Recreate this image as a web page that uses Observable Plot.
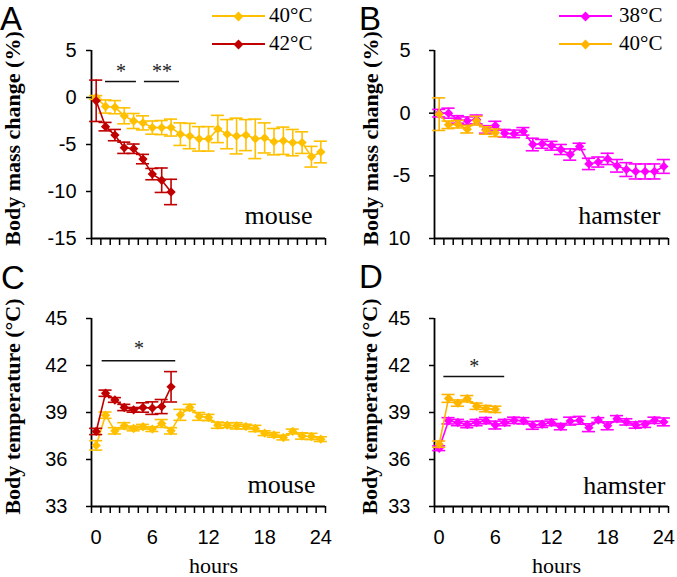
<!DOCTYPE html>
<html><head><meta charset="utf-8">
<script src="https://cdn.jsdelivr.net/npm/d3@7"></script>
<script src="https://cdn.jsdelivr.net/npm/@observablehq/plot@0.6"></script>
<style>
body{margin:0;background:#fff;}
#chart{position:relative;width:677px;height:577px;background:#fff;overflow:hidden;}
#chart svg{position:absolute;overflow:visible;}
.letter{position:absolute;font-family:'Liberation Sans',Arial,sans-serif;font-size:33px;line-height:1;color:#000;}
.legtext{position:absolute;font-family:'Liberation Serif','Times New Roman',serif;font-size:21px;line-height:1;color:#000;white-space:nowrap;}
.legline{position:absolute;height:2px;}
.legdia{position:absolute;width:7px;height:7px;transform:rotate(45deg);}
</style></head><body><div id="chart"></div>
<script>
// ---------- data ----------
const hours = [0,1,2,3,4,5,6,7,8,9,10,11,12,13,14,15,16,17,18,19,20,21,22,23,24];
const hourTickLabels = [0, 6, 12, 18, 24];
const hourTickMarks = [-0.5,0.5,1.5,2.5,3.5,4.5,5.5,6.5,7.5,8.5,9.5,10.5,11.5,12.5,13.5,14.5,15.5,16.5,17.5,18.5,19.5,20.5,21.5,22.5,23.5,24.5];

const massTicksA = [-15, -10, -5, 0, 5];
const massLabelsA = ["-15", "-10", "-5", "0", "5"];
const massTicksB = [-10, -5, 0, 5];
const massLabelsB = ["10", "-5", "0", "5"];
const tempTicks = [33, 36, 39, 42, 45];
const tempLabels = ["33", "36", "39", "42", "45"];

// Panel A: mouse body mass change (%)
const mouseMass40 = [0.0,-0.96,-1.03,-1.95,-2.5,-2.7,-3.2,-3.2,-3.2,-3.9,-4.1,-4.4,-4.4,-3.35,-3.9,-4.1,-4.0,-4.4,-4.3,-4.7,-4.6,-4.8,-4.8,-6.3,-5.8];
const mouseMass40Err = [0.2,0.7,0.7,0.85,0.8,0.75,0.7,0.75,0.9,1.2,1.35,1.3,1.3,1.45,1.55,1.9,1.65,2.1,1.6,1.4,1.45,1.4,1.15,1.1,1.15];
const mouseMass42 = [-0.35,-3.1,-4.0,-5.35,-5.45,-6.55,-8.15,-8.8,-10.05];
const mouseMass42Err = [2.2,0.45,0.6,0.6,0.5,0.5,0.6,1.3,1.35];

// Panel B: hamster body mass change (%)
const hamsterMass38 = [0.0,0.0,-0.5,-0.6,-0.5,-1.3,-1.0,-1.6,-1.65,-1.45,-2.5,-2.45,-2.6,-2.9,-3.3,-2.65,-4.05,-3.9,-3.65,-4.2,-4.5,-4.65,-4.65,-4.65,-4.25];
const hamsterMass38Err = [0.3,0.4,0.3,0.3,0.35,0.3,0.35,0.3,0.3,0.3,0.5,0.35,0.35,0.4,0.45,0.25,0.45,0.4,0.45,0.5,0.55,0.6,0.6,0.6,0.55];
const hamsterMass40 = [-0.08,-0.93,-0.88,-1.28,-0.6,-1.38,-1.57];
const hamsterMass40Err = [1.3,0.3,0.3,0.3,0.35,0.3,0.3];

// Panel C: mouse body temperature (°C)
const mouseTemp40 = [36.9,38.83,37.83,38.15,37.98,38.09,37.94,38.3,37.83,38.85,39.32,38.75,38.68,38.19,38.19,38.15,38.1,37.98,37.68,37.57,37.4,37.79,37.5,37.47,37.3];
const mouseTemp40Err = [0.3,0.2,0.2,0.2,0.15,0.15,0.15,0.25,0.2,0.35,0.2,0.25,0.2,0.2,0.15,0.2,0.15,0.2,0.15,0.15,0.15,0.15,0.2,0.2,0.15];
const mouseTemp42 = [37.79,40.23,39.8,39.32,39.17,39.32,39.28,39.38,40.64];
const mouseTemp42Err = [0.2,0.2,0.15,0.2,0.15,0.3,0.4,0.45,0.97];

// Panel D: hamster body temperature (°C)
const hamsterTemp38 = [36.72,38.47,38.36,38.23,38.36,38.48,38.2,38.36,38.5,38.47,38.18,38.25,38.36,38.1,38.45,38.5,38.03,38.52,38.15,38.6,38.4,38.2,38.25,38.5,38.4];
const hamsterTemp38Err = [0.15,0.2,0.2,0.2,0.2,0.2,0.25,0.2,0.2,0.2,0.25,0.2,0.2,0.2,0.25,0.25,0.25,0.15,0.25,0.2,0.2,0.2,0.2,0.2,0.25];
const hamsterTemp40 = [36.98,39.9,39.6,39.88,39.4,39.25,39.2];
const hamsterTemp40Err = [0.2,0.25,0.2,0.2,0.2,0.2,0.2];

// significance bars
const sigA = [{x1: 1.0, x2: 4.3, y: 1.7, label: "*"}, {x1: 5.15, x2: 8.9, y: 1.7, label: "**"}];
const sigC = [{x1: 0.64, x2: 8.5, y: 42.3, label: "*"}];
const sigD = [{x1: 0.5, x2: 7.0, y: 41.3, label: "*"}];

const GOLD = "#FFC000", RED = "#C00000", MAGENTA = "#FF00FF", GOLD2 = "#FFB400";
const SERIF = "'Liberation Serif','Times New Roman',serif";
const SANS = "'Liberation Sans',Arial,sans-serif";

// ---------- helpers ----------
function series(ys, es) { return ys.map((y, i) => ({h: hours[i], y, e: es[i]})); }

function seriesMarks(data, color) {
  const sw = 1.6;
  return [
    Plot.line(data, {x: "h", y: "y", stroke: color, strokeWidth: sw}),
    Plot.ruleX(data, {x: "h", y1: d => d.y - d.e, y2: d => d.y + d.e, stroke: color, strokeWidth: sw}),
    Plot.ruleY(data, {y: d => d.y + d.e, x1: d => d.h - 0.7, x2: d => d.h + 0.7, stroke: color, strokeWidth: sw}),
    Plot.ruleY(data, {y: d => d.y - d.e, x1: d => d.h - 0.7, x2: d => d.h + 0.7, stroke: color, strokeWidth: sw}),
    Plot.dot(data, {x: "h", y: "y", symbol: "diamond2", r: 4.2, fill: color, stroke: "none"})
  ];
}

function sigMarks(sig, starDy) {
  return [
    Plot.ruleY(sig, {y: "y", x1: "x1", x2: "x2", stroke: "#111", strokeWidth: 1.5}),
    Plot.text(sig, {x: d => (d.x1 + d.x2) / 2, y: "y", text: "label", dy: starDy, fontFamily: SERIF, fontSize: 20, fill: "#222"})
  ];
}

const chart = document.getElementById("chart");

function panel(o) {
  const svg = Plot.plot({
    width: o.width, height: o.height,
    marginLeft: o.ml, marginRight: o.mr, marginTop: o.mt, marginBottom: o.mb,
    x: {domain: [-0.5, 24.5]},
    y: {domain: o.yDomain},
    style: {fontFamily: SANS, fontSize: "20px", background: "transparent", color: "#000", overflow: "visible"},
    marks: [
      Plot.axisY({ticks: o.yTicks, tickSize: 5, tickPadding: o.tickPad, tickFormat: d => o.yLabels[o.yTicks.indexOf(d)], label: null, strokeWidth: 1.5, fontSize: 20}),
      Plot.axisX({ticks: hourTickMarks, tickSize: 7, tickFormat: () => "", label: null, strokeWidth: 1.5}),
      o.bottom ? Plot.axisX({ticks: hourTickLabels, tickSize: 0, tickPadding: 23, label: null, fontSize: 20}) : null,
      Plot.ruleX([-0.5], {stroke: "#000", strokeWidth: 1.8}),
      Plot.ruleY([o.yDomain[0]], {stroke: "#000", strokeWidth: 1.8}),
      ...sigMarks(o.sig || [], o.starDy || -10),
      ...o.series.flatMap(s => seriesMarks(s.data, s.color)),
      Plot.text([o.animal], {frameAnchor: "bottom-right", textAnchor: "end", lineAnchor: "bottom", dx: o.animalDx, dy: o.animalDy, fontFamily: SERIF, fontSize: 26}),
      Plot.text([o.yTitle], {frameAnchor: "left", textAnchor: "middle", lineAnchor: "middle", rotate: -90, dx: o.titleDx, dy: -6, fontFamily: SERIF, fontWeight: "bold", fontSize: 22}),
      o.bottom ? Plot.text(["hours"], {frameAnchor: "bottom", textAnchor: "middle", lineAnchor: "bottom", dy: 66, dx: 5, fontFamily: SERIF, fontSize: 22}) : null
    ]
  });
  svg.style.left = o.left + "px";
  svg.style.top = o.top + "px";
  chart.appendChild(svg);
}

panel({left: 0, top: 0, width: 338, height: 280, ml: 91, mr: 13, mt: 50, mb: 42,
  yDomain: [-15, 5], yTicks: massTicksA, yLabels: massLabelsA, tickPad: 10,
  yTitle: "Body mass change (%)", titleDx: -79, sig: sigA, starDy: -10,
  animal: "mouse", animalDx: -13, animalDy: -15,
  series: [{data: series(mouseMass40, mouseMass40Err), color: GOLD}, {data: series(mouseMass42, mouseMass42Err), color: RED}]});

panel({left: 338, top: 0, width: 339, height: 280, ml: 96, mr: 9, mt: 50, mb: 42,
  yDomain: [-10, 5], yTicks: massTicksB, yLabels: massLabelsB, tickPad: 19,
  yTitle: "Body mass change (%)", titleDx: -64,
  animal: "hamster", animalDx: -8, animalDy: -15,
  series: [{data: series(hamsterMass38, hamsterMass38Err), color: MAGENTA}, {data: series(hamsterMass40, hamsterMass40Err), color: GOLD2}]});

panel({left: 0, top: 280, width: 338, height: 297, ml: 91, mr: 13, mt: 38, mb: 71,
  yDomain: [33, 45], yTicks: tempTicks, yLabels: tempLabels, tickPad: 19,
  yTitle: "Body temperature (°C)", titleDx: -79, sig: sigC, starDy: -12,
  animal: "mouse", animalDx: -10, animalDy: -14, bottom: true,
  series: [{data: series(mouseTemp40, mouseTemp40Err), color: GOLD}, {data: series(mouseTemp42, mouseTemp42Err), color: RED}]});

panel({left: 338, top: 280, width: 339, height: 297, ml: 96, mr: 9, mt: 38, mb: 71,
  yDomain: [33, 45], yTicks: tempTicks, yLabels: tempLabels, tickPad: 19,
  yTitle: "Body temperature (°C)", titleDx: -65, sig: sigD, starDy: -10,
  animal: "hamster", animalDx: -3, animalDy: -13, bottom: true,
  series: [{data: series(hamsterTemp38, hamsterTemp38Err), color: MAGENTA}, {data: series(hamsterTemp40, hamsterTemp40Err), color: GOLD2}]});

// ---------- panel letters ----------
[["A", 0, 2], ["B", 359, 2], ["C", 1, 261], ["D", 359, 260]].forEach(([t, x, y]) => {
  const d = document.createElement("div");
  d.className = "letter"; d.textContent = t;
  d.style.left = x + "px"; d.style.top = y + "px";
  chart.appendChild(d);
});

// ---------- legends ----------
const legendA = [{label: "40°C", color: GOLD}, {label: "42°C", color: RED}];
const legendB = [{label: "38°C", color: MAGENTA}, {label: "40°C", color: GOLD2}];
function legend(items, x1, x2, tx, ys) {
  items.forEach((it, i) => {
    const y = ys[i];
    const line = document.createElement("div");
    line.className = "legline";
    line.style.left = x1 + "px"; line.style.width = (x2 - x1) + "px";
    line.style.top = (y - 1) + "px"; line.style.background = it.color;
    chart.appendChild(line);
    const dia = document.createElement("div");
    dia.className = "legdia";
    dia.style.left = ((x1 + x2) / 2 - 3.5) + "px"; dia.style.top = (y - 3.5) + "px";
    dia.style.background = it.color;
    chart.appendChild(dia);
    const t = document.createElement("div");
    t.className = "legtext"; t.textContent = it.label;
    t.style.left = tx + "px"; t.style.top = (y - 11) + "px";
    chart.appendChild(t);
  });
}
legend(legendA, 212, 265, 269, [16, 44]);
legend(legendB, 559, 612, 619, [16, 44]);
</script></body></html>
